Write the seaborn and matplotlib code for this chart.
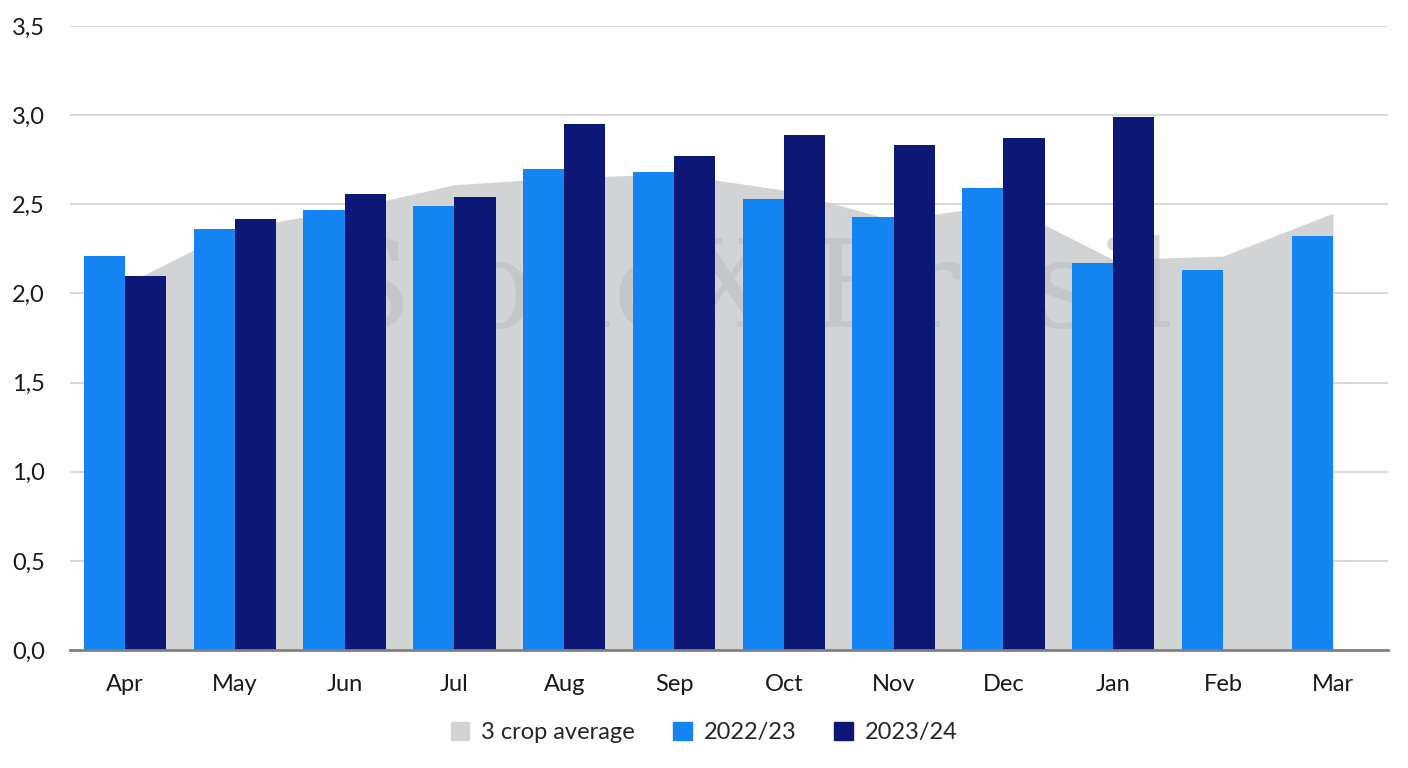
import numpy as np
import pandas as pd
import seaborn as sns
import matplotlib.pyplot as plt
from matplotlib.patches import Patch
from matplotlib.ticker import FuncFormatter, MultipleLocator

months = ['Apr', 'May', 'Jun', 'Jul', 'Aug', 'Sep', 'Oct', 'Nov', 'Dec', 'Jan', 'Feb', 'Mar']
avg_3crop = [2.05, 2.36, 2.47, 2.61, 2.65, 2.67, 2.58, 2.41, 2.50, 2.19, 2.21, 2.45]
season_2223 = [2.21, 2.36, 2.47, 2.49, 2.70, 2.68, 2.53, 2.43, 2.59, 2.17, 2.13, 2.32]
season_2324 = [2.10, 2.42, 2.56, 2.54, 2.95, 2.77, 2.89, 2.83, 2.87, 2.99, np.nan, np.nan]

df = pd.DataFrame({
    'month': months * 2,
    'value': season_2223 + season_2324,
    'season': ['2022/23'] * 12 + ['2023/24'] * 12,
})

c_avg = '#D2D3D5'
c_2223 = '#1484F2'
c_2324 = '#0C1776'

sns.set_theme(style='white')
plt.rcParams['font.family'] = ['Lato', 'DejaVu Sans']

fig = plt.figure(figsize=(14.08, 7.68), dpi=100)
ax = fig.add_axes([0.0497, 0.1536, 0.936, 0.8125])

# grey area for 3 crop average
ax.fill_between(range(len(months)), avg_3crop, 0, color=c_avg, lw=0, zorder=1)

# faint watermark
ax.text(5.7, 2.0, 'StoneX Brasil', color='#BDBEC0', fontsize=88, ha='center',
        va='center', zorder=1.5, fontfamily='DejaVu Serif', alpha=0.6)

sns.barplot(data=df, x='month', y='value', hue='season', order=months,
            hue_order=['2022/23', '2023/24'], palette=[c_2223, c_2324],
            width=0.75, saturation=1, errorbar=None, legend=False, ax=ax,
            linewidth=0, zorder=3)

ax.set_xlim(-0.5, 11.5)
ax.set_ylim(0, 3.5)
ax.yaxis.set_major_locator(MultipleLocator(0.5))
ax.yaxis.set_major_formatter(FuncFormatter(lambda v, p: f'{v:.1f}'.replace('.', ',')))
ax.grid(axis='y', color='#D9D9D9', lw=1.5, zorder=0)
ax.set_axisbelow(True)
for s in ['top', 'right', 'left']:
    ax.spines[s].set_visible(False)
ax.spines['bottom'].set_color('#808080')
ax.spines['bottom'].set_linewidth(2)
ax.spines['bottom'].set_zorder(5)
ax.set_xlabel('')
ax.set_ylabel('')
ax.tick_params(axis='both', length=0, labelsize=17, colors='#1a1a1a')
ax.tick_params(axis='x', pad=17)
ax.tick_params(axis='y', pad=18)

handles = [Patch(color=c_avg, label='3 crop average'),
           Patch(color=c_2223, label='2022/23'),
           Patch(color=c_2324, label='2023/24')]
fig.legend(handles=handles, loc='center', bbox_to_anchor=(0.5, 0.046), ncol=3,
           frameon=False, fontsize=17, handlelength=0.8, handleheight=0.8,
           handletextpad=0.5, columnspacing=1.6)

fig.savefig('out.png', dpi=100)
